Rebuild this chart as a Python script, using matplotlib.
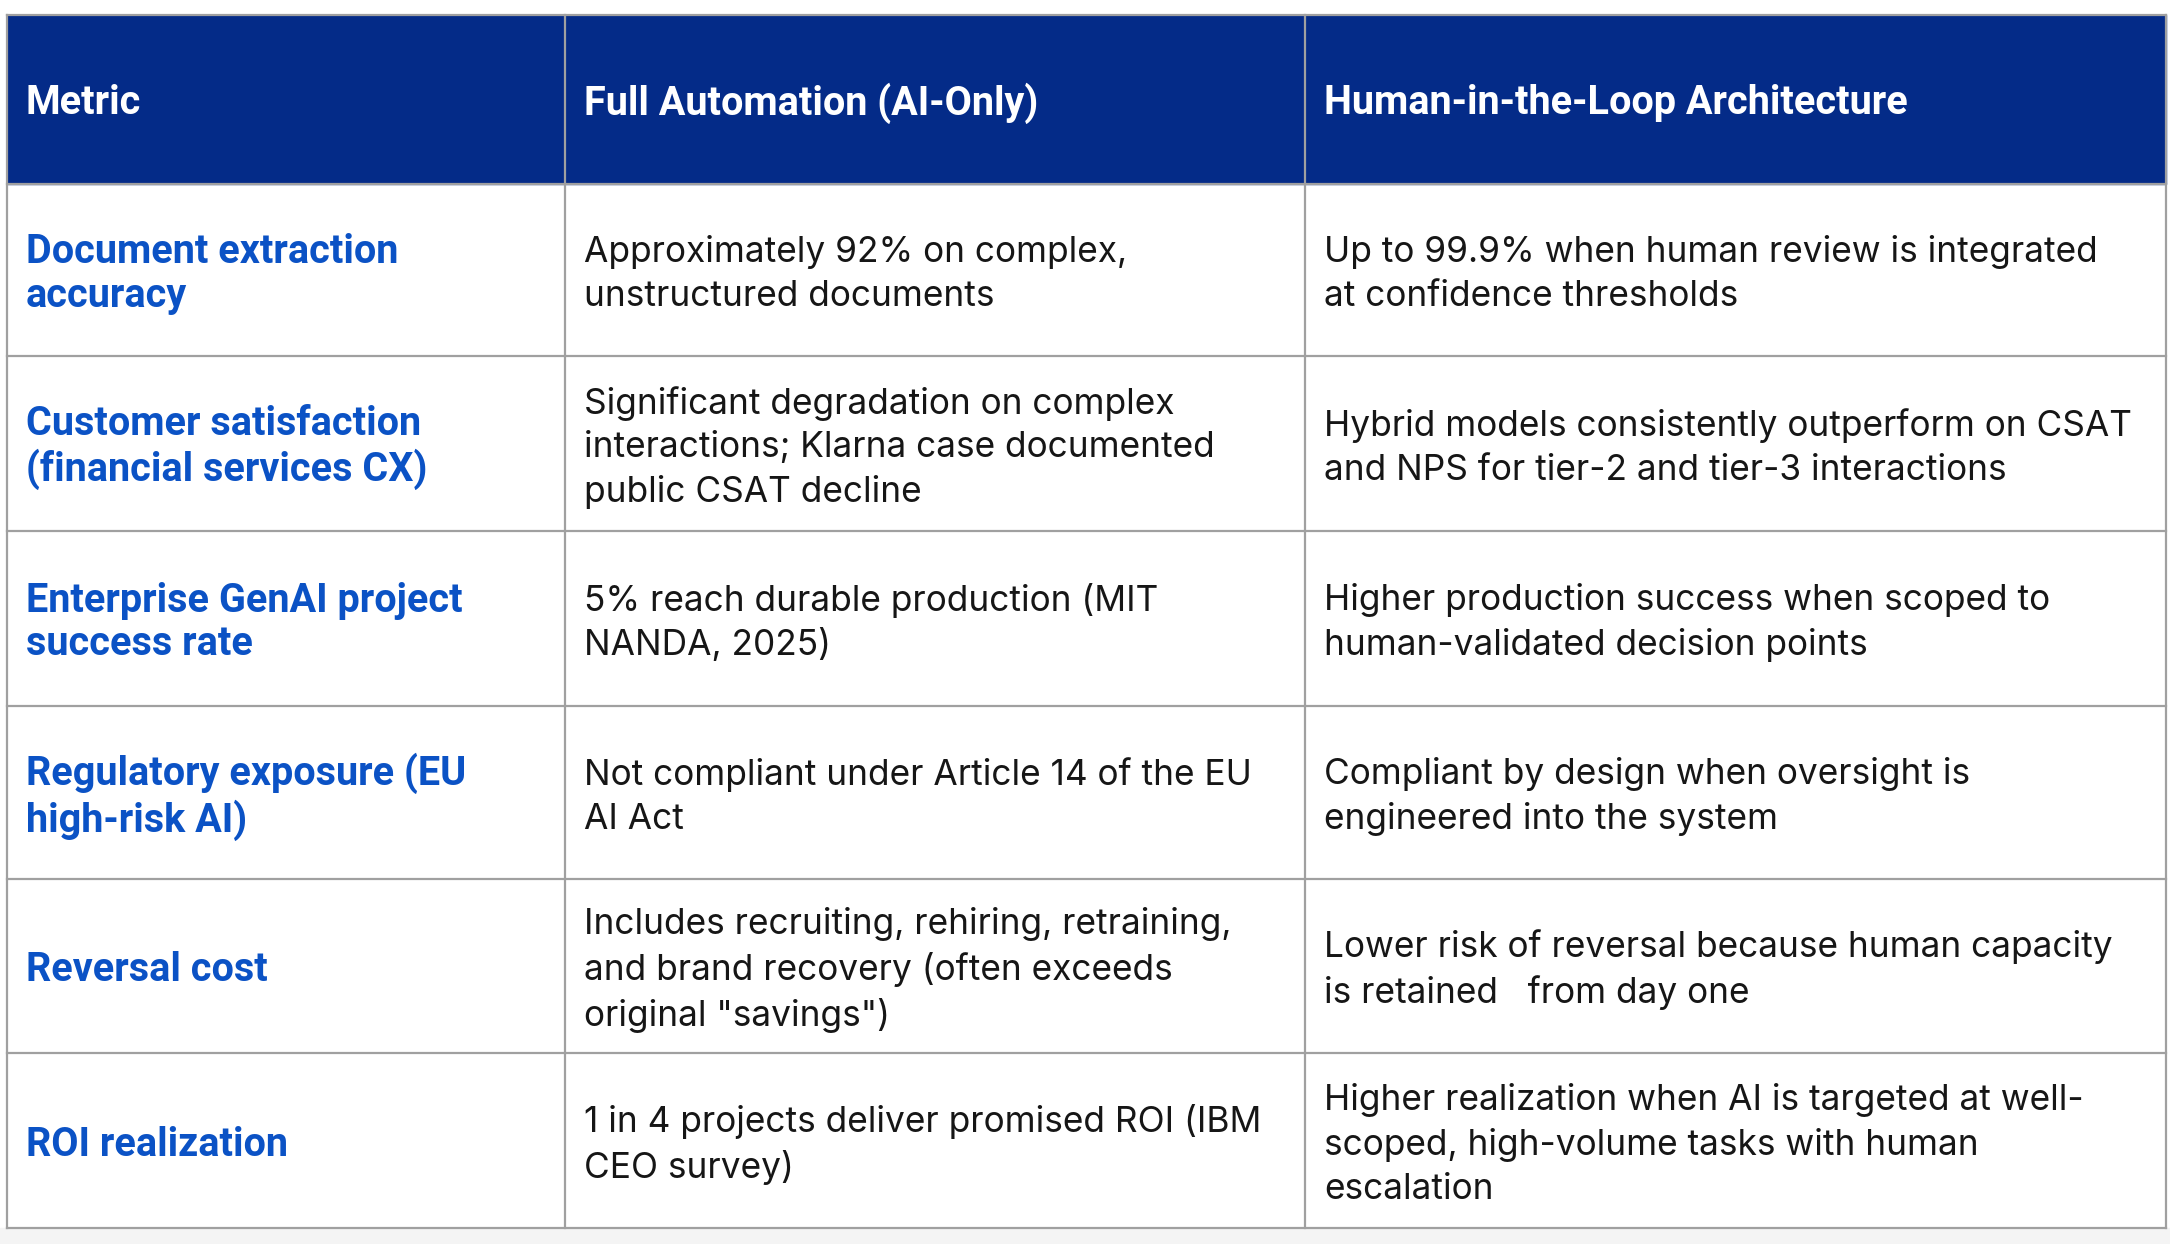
import matplotlib
matplotlib.use('Agg')
import matplotlib.pyplot as plt
from matplotlib.patches import Rectangle

# table contents
headers = ["Metric", "Full Automation (AI-Only)", "Human-in-the-Loop Architecture"]
metrics = [
    "Document extraction\naccuracy",
    "Customer satisfaction\n(financial services CX)",
    "Enterprise GenAI project\nsuccess rate",
    "Regulatory exposure (EU\nhigh-risk AI)",
    "Reversal cost",
    "ROI realization",
]
full_auto = [
    "Approximately 92% on complex,\nunstructured documents",
    "Significant degradation on complex\ninteractions; Klarna case documented\npublic CSAT decline",
    "5% reach durable production (MIT\nNANDA, 2025)",
    "Not compliant under Article 14 of the EU\nAI Act",
    "Includes recruiting, rehiring, retraining,\nand brand recovery (often exceeds\noriginal \"savings\")",
    "1 in 4 projects deliver promised ROI (IBM\nCEO survey)",
]
hitl = [
    "Up to 99.9% when human review is integrated\nat confidence thresholds",
    "Hybrid models consistently outperform on CSAT\nand NPS for tier-2 and tier-3 interactions",
    "Higher production success when scoped to\nhuman-validated decision points",
    "Compliant by design when oversight is\nengineered into the system",
    "Lower risk of reversal because human capacity\nis retained   from day one",
    "Higher realization when AI is targeted at well-\nscoped, high-volume tasks with human\nescalation",
]

W, H = 2170, 1244
col_x = [7, 565, 1305, 2166]
row_y = [15, 184, 356, 531, 706, 879, 1053, 1228]
PAD = 19
DY = 4  # nudge text down a touch to sit like the original

HEAD_BG = "#042b88"
BLUE = "#0b52c5"
TEXT = "#161616"
GRID = "#a0a0a0"

fig = plt.figure(figsize=(W / 100, H / 100), dpi=100)
ax = fig.add_axes([0, 0, 1, 1])
ax.set_xlim(0, W)
ax.set_ylim(H, 0)
ax.axis('off')

# light gray strip below the table
ax.add_patch(Rectangle((0, row_y[-1]), W, H - row_y[-1], color="#f4f4f4", zorder=0))
ax.add_patch(Rectangle((col_x[0], row_y[0]), col_x[-1] - col_x[0], row_y[1] - row_y[0],
                       color=HEAD_BG, zorder=1))

# grid lines
for x in col_x:
    ax.plot([x, x], [row_y[0], row_y[-1]], color=GRID, lw=1.6, zorder=2)
for y in row_y:
    ax.plot([col_x[0], col_x[-1]], [y, y], color=GRID, lw=1.6, zorder=2)

bold = dict(family=["Roboto", "DejaVu Sans"], fontweight="bold", fontsize=28.5)
body = dict(family=["Inter", "DejaVu Sans"], fontsize=25.4)

ymid = (row_y[0] + row_y[1]) / 2 + DY
for j, h in enumerate(headers):
    ax.text(col_x[j] + PAD, ymid, h, color="white", va="center", ha="left", zorder=3, **bold)

for i in range(len(metrics)):
    ymid = (row_y[i + 1] + row_y[i + 2]) / 2 + DY
    ax.text(col_x[0] + PAD, ymid, metrics[i], color=BLUE, va="center", ha="left",
            linespacing=1.18, zorder=3, **bold)
    ax.text(col_x[1] + PAD, ymid, full_auto[i], color=TEXT, va="center", ha="left",
            linespacing=1.4, zorder=3, **body)
    ax.text(col_x[2] + PAD, ymid, hitl[i], color=TEXT, va="center", ha="left",
            linespacing=1.4, zorder=3, **body)

fig.savefig("out.png", dpi=100, facecolor="white")
